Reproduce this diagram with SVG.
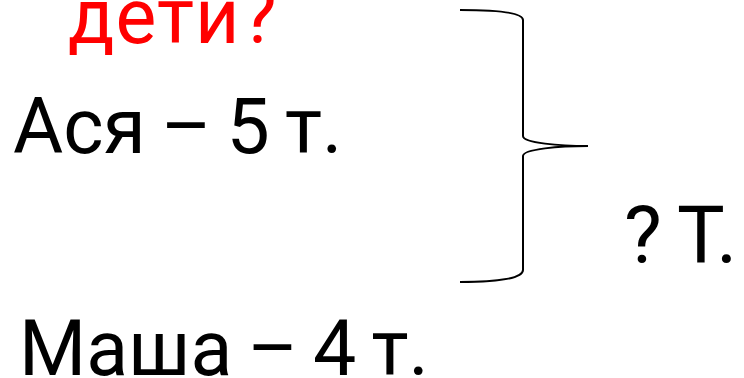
<svg xmlns="http://www.w3.org/2000/svg" width="744" height="378" viewBox="0 0 744 378">
<style>
.t{font-family:Roboto,"Liberation Sans",sans-serif;fill:#000;font-size:77px;word-spacing:-4px}
.r{font-family:Roboto,"Liberation Sans",sans-serif;fill:#ff0000;font-size:77px;letter-spacing:1px}
.br{fill:none;stroke:#000;stroke-width:2}
</style>
<rect width="744" height="378" fill="#fff"/>
<g id="deti"><text class="r" x="68" y="43">дети?</text></g>
<g id="asya"><text class="t" x="13" y="153">Ася – 5 т.</text></g>
<g id="masha"><text class="t" x="19" y="375">Маша – 4 т.</text></g>
<g id="brace"><path class="br" d="M460,10 C500,10 523,13 523,20 L523,136 C523,143 560,146 588,146 C560,146 523,149 523,156 L523,270 C523,278 500,282 460,282"/></g>
<g id="total"><text class="t" x="624" y="263" style="font-size:80px;word-spacing:-3px">? Т.</text></g>
</svg>
